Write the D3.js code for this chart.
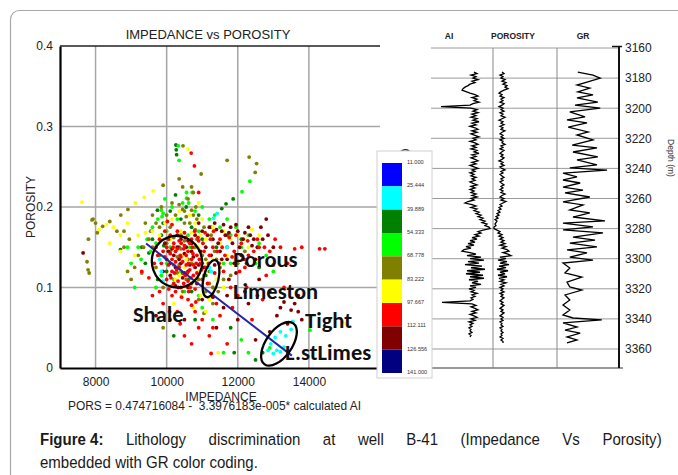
<!DOCTYPE html>
<html>
<head>
<meta charset="utf-8">
<script src="https://cdnjs.cloudflare.com/ajax/libs/d3/7.8.5/d3.min.js"></script>
<style>
  body { margin: 0; background: #fff; }
  svg { display: block; font-family: Arial, "Liberation Sans", sans-serif; }
</style>
</head>
<body>
<script>
// ---- scatter data : [impedance, porosity], one array per GR colour class ----
var ptsCyan = [[11420,0.192],[11320,0.186],[11700,0.150],[11200,0.125],[11250,0.120],[9800,0.135],[9850,0.120],[9900,0.108],
  [12930,0.030],[13050,0.038],[13200,0.045],[13350,0.040],[13500,0.048],[13100,0.022],[13200,0.020],[13000,0.018],[12850,0.022],[13300,0.026],[13550,0.058]];
var ptsDkGreen = [[10260,0.277],[10270,0.271],[10280,0.265],[11870,0.210],[11670,0.204],[11550,0.198],[9740,0.196],[9850,0.165],
  [9920,0.152],[9500,0.143],[8700,0.147],[9400,0.130],[10100,0.195],[10400,0.185],[10700,0.175],[11000,0.160],[11400,0.150],
  [10000,0.120],[10700,0.095],[11100,0.115],[12600,0.125],[11900,0.019],[12700,0.019],[12500,0.010],[11800,0.050],[10800,0.060],[10200,0.040],
  [9600,0.160],[9900,0.180],[10250,0.215],[10550,0.200],[10900,0.190],[11250,0.175],[11700,0.165],[12100,0.160],[9300,0.150],
  [10350,0.150],[10600,0.110],[11000,0.130],[9750,0.110]];
var ptsLime = [[10350,0.258],[10330,0.276],[10560,0.218],[10560,0.211],[10720,0.218],[10620,0.205],[12340,0.232],[12120,0.219],
  [9900,0.192],[9850,0.196],[9870,0.188],[9280,0.135],[9200,0.150],[9000,0.130],[9550,0.145],[9700,0.155],[10000,0.170],[10300,0.185],
  [10600,0.165],[10900,0.170],[11200,0.185],[11500,0.175],[11800,0.165],[12100,0.150],[12500,0.130],[12800,0.140],[10200,0.110],
  [10500,0.095],[11000,0.075],[11300,0.060],[12100,0.035],[11600,0.019],[12300,0.019],[12900,0.025],[14030,0.047],[11600,0.130],
  [10000,0.130],[9700,0.100],[9450,0.160],[9600,0.175],[9750,0.185],[9950,0.210],[10150,0.200],[10450,0.205],[10800,0.195],
  [11000,0.200],[11350,0.190],[11700,0.185],[11950,0.175],[12300,0.165],[12600,0.155],[10100,0.150],[10650,0.150],[10400,0.120],
  [11300,0.100],[9850,0.115],[10900,0.090],[11800,0.130],[13000,0.120],[9100,0.100],[8900,0.150]];
var ptsOlive = [[7930,0.185],[8710,0.190],[8910,0.197],[9900,0.227],[10460,0.276],[10350,0.235],[10450,0.225],[10350,0.203],
  [10700,0.225],[10750,0.218],[10970,0.241],[10820,0.200],[10600,0.210],[10450,0.197],[10500,0.195],[10700,0.196],[10750,0.190],
  [11700,0.258],[12320,0.262],[12530,0.254],[12490,0.243],[7900,0.184],[8000,0.180],[8200,0.176],[8400,0.182],[8600,0.170],
  [8050,0.168],[7800,0.160],[8800,0.150],[8900,0.120],[9100,0.125],[9300,0.118],[9000,0.110],[7760,0.132],[7790,0.122],[7820,0.118],
  [9600,0.190],[9800,0.175],[9500,0.160],[10000,0.155],[10200,0.162],[10400,0.148],[10600,0.135],[10800,0.150],[11000,0.140],
  [10300,0.118],[10700,0.105],[11200,0.120],[11400,0.135],[11100,0.095],[10900,0.085],[11300,0.100],[11600,0.110],[12000,0.130],
  [12200,0.145],[9800,0.140],[10100,0.175],[10500,0.180],[11200,0.105],[11350,0.145],[9900,0.050],[10100,0.145],[10300,0.138],
  [10500,0.158],[10700,0.130],[10900,0.110],[11100,0.135],[10400,0.165],[10800,0.172],[10200,0.128],[11500,0.125],[11800,0.115],
  [9700,0.125],[9600,0.150],[9400,0.180],[9550,0.170],[9700,0.180],[9850,0.200],[10000,0.190],[10150,0.205],[10250,0.190],
  [10550,0.188],[10650,0.180],[10850,0.185],[11050,0.175],[11250,0.165],[9200,0.140],[9350,0.150],[8950,0.160],[8800,0.170],
  [10350,0.128],[10550,0.110],[10850,0.160],[11050,0.115],[10150,0.102],[10450,0.095],[11450,0.095],[11300,0.080],[11050,0.068],[9900,0.100]];
var ptsYellow = [[7620,0.206],[9120,0.205],[9370,0.212],[9620,0.220],[10600,0.272],[10900,0.205],[8300,0.178],[8100,0.172],
  [8500,0.175],[8700,0.165],[8400,0.155],[9200,0.165],[9400,0.168],[8700,0.145],[9100,0.140],[10100,0.160],[10400,0.170],
  [10700,0.168],[10900,0.150],[11100,0.160],[11300,0.135],[10500,0.125],[10800,0.110],[11000,0.100],[10900,0.120],[11500,0.155],
  [11800,0.160],[12200,0.160],[12400,0.172],[12600,0.165],[11200,0.085],[11100,0.070],[10400,0.090],[11450,0.019],[14950,0.057],
  [15050,0.055],[10200,0.080],[10250,0.150],[10550,0.135],[10750,0.155],[10350,0.115],[10950,0.165],[11400,0.110],[11700,0.140],
  [10650,0.145],[9800,0.165],[9950,0.180],[10150,0.185],[10350,0.195],[10650,0.190],[10800,0.180],[11000,0.185],[11300,0.175],
  [11600,0.170],[12000,0.165],[12300,0.150],[9600,0.170],[8900,0.180],[10450,0.140],[10250,0.110],[10650,0.100],[10950,0.090],
  [11150,0.130],[11600,0.100],[10750,0.075]];
var ptsDkRed = [[10400,0.160],[10600,0.158],[10800,0.165],[11000,0.170],[11200,0.175],[11400,0.172],[11600,0.178],[11800,0.175],
  [12000,0.170],[12200,0.168],[11100,0.150],[11300,0.160],[11500,0.145],[11700,0.135],[11900,0.130],[12100,0.140],[12400,0.152],
  [12500,0.135],[12700,0.160],[10200,0.140],[10400,0.130],[10600,0.120],[10300,0.150],[10500,0.142],[10700,0.145],[10000,0.135],
  [9900,0.120],[10100,0.115],[10800,0.125],[11000,0.085],[11600,0.075],[12000,0.060],[12300,0.080],[12600,0.110],[12900,0.095],
  [13300,0.082],[13500,0.072],[13700,0.070],[13800,0.060],[13400,0.055],[13100,0.065],[12900,0.045],[12500,0.035],[11400,0.050],
  [10500,0.060],[9700,0.065],[7650,0.143],[13700,0.090],[12800,0.185],[10150,0.148],[10350,0.135],[10550,0.150],[10750,0.138],
  [10950,0.145],[10250,0.125],[10450,0.112],[10650,0.128],[10850,0.105],[11050,0.125],[11250,0.140],[11450,0.155],[11650,0.165],
  [11850,0.155],[12050,0.150],[12350,0.165],[12650,0.175],[10050,0.145],[10600,0.100],[11300,0.088],[10900,0.180],[11150,0.165],
  [11350,0.180],[11550,0.170],[11750,0.168],[11950,0.178],[12150,0.160],[12300,0.175],[12450,0.160],[12550,0.150],[12850,0.165],
  [13000,0.150],[12250,0.130],[11950,0.118],[11750,0.110],[11550,0.135],[11350,0.128],[10300,0.165],[10500,0.118],[10700,0.155],
  [10900,0.128],[10100,0.130],[9950,0.155],[10250,0.102],[13200,0.075],[13600,0.080],[12200,0.095],[11700,0.090]];
var ptsRed = [[10780,0.251],[10690,0.267],[10900,0.218],[9900,0.145],[10000,0.150],[10100,0.142],[10200,0.155],[10300,0.148],
  [10400,0.138],[10500,0.152],[10600,0.145],[10700,0.135],[10050,0.128],[10150,0.120],[10250,0.132],[10350,0.125],[10450,0.118],
  [10550,0.128],[10650,0.122],[10750,0.115],[10850,0.140],[10950,0.130],[10100,0.165],[10300,0.170],[10500,0.168],[10700,0.160],
  [10900,0.158],[10000,0.110],[10200,0.105],[10400,0.100],[10600,0.108],[10800,0.098],[11000,0.110],[11100,0.125],[11200,0.140],
  [11300,0.150],[11500,0.160],[11700,0.150],[11900,0.145],[12100,0.155],[12300,0.140],[12600,0.150],[12900,0.145],[13200,0.150],
  [13600,0.148],[14300,0.148],[14450,0.148],[13000,0.128],[12200,0.125],[11600,0.120],[11800,0.100],[12000,0.090],[11400,0.080],
  [10600,0.085],[10300,0.070],[10100,0.060],[9800,0.095],[9900,0.080],[10900,0.050],[11200,0.040],[11700,0.030],[10700,0.030],
  [12400,0.060],[12700,0.085],[13300,0.100],[11250,0.018],[9500,0.112],[9300,0.120],[9650,0.130],[12800,0.115],[9950,0.138],
  [10050,0.160],[10150,0.135],[10250,0.145],[10350,0.158],[10450,0.132],[10550,0.140],[10650,0.155],[10750,0.128],[10850,0.118],
  [10120,0.112],[10320,0.108],[10520,0.115],[10720,0.150],[10920,0.135],[11050,0.145],[10180,0.150],[10380,0.140],[10580,0.118],
  [10280,0.122],[10480,0.148],[10680,0.112],[10880,0.162],[11150,0.105],[11350,0.118],[10420,0.088],[10250,0.095],[10060,0.098],
  [10620,0.095],[10820,0.082],[9700,0.150],[9750,0.140],[9800,0.160],[9850,0.130],[9950,0.170],[10020,0.182],[10150,0.178],
  [10220,0.118],[10330,0.100],[10410,0.155],[10480,0.105],[10530,0.162],[10610,0.130],[10660,0.100],[10740,0.142],[10790,0.170],
  [10830,0.130],[10980,0.122],[11020,0.155],[11080,0.168],[11180,0.130],[11230,0.160],[11320,0.170],[11420,0.145],[11480,0.130],
  [11560,0.150],[11640,0.140],[11760,0.162],[11840,0.138],[11950,0.165],[12050,0.120],[12180,0.135],[12280,0.158],[12450,0.145],
  [12550,0.160],[12750,0.150],[13050,0.160],[13400,0.130],[13800,0.150],[10080,0.070],[10380,0.055],[10500,0.040],[10800,0.070],
  [11000,0.060],[11500,0.065],[11850,0.075],[12250,0.100],[12550,0.090],[9600,0.090],[10150,0.090],[10700,0.078],[11300,0.050]];

// GR colour classes (colour bar)
var grBreaks = [11.000, 25.444, 39.889, 54.333, 68.778, 83.222, 97.667, 112.111, 126.556, 141.000];
var grColors = ["#0000ff", "#00ffff", "#008000", "#00ff00", "#808000", "#ffff00", "#ff0000", "#800000", "#000080"];

// regression: PORS = 0.474716084 - 3.3976183e-005 * AI
var regA = 0.474716084, regB = 3.3976183e-5;
var regRange = [9420, 13520];

// ---- well logs ----
var logTop = 3176; // AI and porosity sampled every 1 m from here
var aiLog = [10600,11200,10000,11000,10400,11400,10200,10800,9800,9400,8800,8400,8200,9000,9800,10800,11400,10200,11200,10600,
  11600,10400,9800,4000,10000,11200,10400,11400,10200,11000,10000,11200,10400,11600,10200,11000,9800,10800,11400,10200,
  11200,10000,10800,11600,10400,11000,9800,10800,11400,10200,11000,10000,11200,10600,11600,10200,11000,10000,10800,11400,
  10200,11000,9800,10600,11400,10200,10800,9800,10600,10000,11000,10200,10800,9800,10400,11200,10000,10800,9800,10600,
  10000,11000,10200,11200,10000,10600,9400,8800,10200,11000,10000,11200,10600,11600,11000,12000,11400,12400,11800,12800,
  12200,13200,12800,13600,13800,12400,11400,12000,10800,11600,10200,11200,9800,10800,9400,10600,9000,10000,8600,8200,
  9800,11000,9200,12000,9800,12600,9400,11600,8800,12200,10000,12800,9200,11800,9000,12400,9800,12600,9600,11400,
  10200,12000,9800,11000,9600,10600,10000,11200,10200,10800,10000,10400,9800,4200,10200,11000,10000,10800,11400,10200,
  11000,9800,10600,11200,10000,10800,9600,10400,9800,10200,9600,10000,9800,10200,9600,10000,9800];
var porLog = [.09,.11,.07,.10,.08,.12,.09,.13,.10,.14, .12,.15,.11,.08,.06,.09,.07,.11,.08,.10,
  .07,.11,.09,.06,.10,.08,.11,.07,.10,.08, .12,.09,.06,.10,.08,.11,.07,.10,.08,.12,
  .09,.07,.10,.08,.11,.07,.10,.09,.12,.08, .10,.07,.11,.09,.07,.10,.08,.11,.09,.06,
  .10,.08,.11,.07,.09,.12,.08,.10,.07,.09, .11,.08,.10,.07,.09,.11,.08,.10,.07,.10,
  .08,.12,.09,.07,.11,.08,.13,.10,.07,.09, .06,.08,.05,.07,.04,.06,.03,.05,.02,.04,
  .03,.02,.03,.01,.01,.04,.07,.05,.09,.06, .10,.07,.11,.08,.12,.07,.13,.09,.14,.16,
  .10,.15,.18,.07,.13,.05,.14,.07,.16,.06, .13,.04,.15,.07,.12,.05,.14,.06,.11,.07,
  .13,.08,.11,.07,.10,.08,.11,.07,.10,.08, .11,.09,.07,.10,.08,.11,.09,.07,.10,.08,
  .11,.09,.07,.10,.08,.10,.07,.09,.08,.10, .07,.09,.08,.10,.08,.09,.07,.10,.08,.10, .10];
// GR read as [depth, API]
var grLog = [[3176,52],[3178,90],[3180,108],[3182.6,75],[3184.6,50],[3186.6,82],[3189.2,52],[3191.2,90],[3193.2,50],[3195.9,102],
  [3197.9,45],[3199.9,108],[3202.5,32],[3205.8,70],[3207.8,25],[3209.8,75],[3212.5,28],[3215.8,78],[3217.8,50],[3221.1,90],
  [3224.5,38],[3226.4,100],[3229.1,40],[3232.4,102],[3234.4,50],[3237.7,100],[3239.7,32],[3241.1,125],[3243.1,15],[3245.7,50],
  [3247.7,15],[3249.7,58],[3252.4,15],[3254.4,65],[3256.3,20],[3259,82],[3262.3,15],[3264.3,65],[3267.6,32],[3269.6,82],
  [3272.3,40],[3274.9,120],[3276.3,15],[3278.9,90],[3280.9,15],[3282.9,115],[3285.6,40],[3287.6,95],[3289.6,32],[3292.2,100],
  [3294.2,25],[3296.2,75],[3298.9,32],[3300.9,90],[3302.9,15],[3306.2,32],[3309.5,20],[3312.2,62],[3315.5,25],[3318.8,32],
  [3320.8,62],[3324.1,20],[3327.4,32],[3330.8,15],[3334.1,32],[3337.4,15],[3339.4,40],[3340.7,112],[3342.7,15],[3345.4,50],
  [3347.4,20],[3349.4,58],[3352,25],[3354,50],[3356,25]];
var depthTicks = [3160,3180,3200,3220,3240,3260,3280,3300,3320,3340,3360];
var trackNames = ["AI", "POROSITY", "GR"];

var svg = d3.select("body").append("svg")
  .attr("width", 678)
  .attr("height", 475);

// outer figure frame
svg.append("rect")
  .attr("x", 10.5).attr("y", 10.5)
  .attr("width", 700).attr("height", 520)
  .attr("rx", 9)
  .style("fill", "none").style("stroke", "#a8a8a8").style("stroke-width", 1.2);

// ===================== scatter =====================
var x = d3.scaleLinear().domain([7000, 16000]).range([60, 380]);
var y = d3.scaleLinear().domain([0, 0.4]).range([368, 46]);

var grid = svg.append("g");
grid.selectAll("line.v").data([8000, 10000, 12000, 14000]).enter().append("line")
  .attr("x1", function (d) { return x(d) }).attr("x2", function (d) { return x(d) })
  .attr("y1", y(0.4)).attr("y2", y(0))
  .style("stroke", "#a6a6a6").style("stroke-width", 1.5);
grid.selectAll("line.h").data([0.1, 0.2, 0.3]).enter().append("line")
  .attr("x1", x(7000)).attr("x2", x(16000))
  .attr("y1", function (d) { return y(d) }).attr("y2", function (d) { return y(d) })
  .style("stroke", "#a6a6a6").style("stroke-width", 1.5);
svg.append("line")
  .attr("x1", x(7000)).attr("x2", x(16000)).attr("y1", y(0.4)).attr("y2", y(0.4))
  .style("stroke", "#222").style("stroke-width", 1.5);

var yAxis = svg.append("g")
  .attr("transform", "translate(" + x(7000) + ",0)")
  .call(d3.axisLeft(y).tickValues([0, 0.1, 0.2, 0.3, 0.4])
    .tickFormat(function (d) { return d == 0 ? "0" : d3.format(".1f")(d) })
    .tickSize(0).tickPadding(7));
var xAxis = svg.append("g")
  .attr("transform", "translate(0," + y(0) + ")")
  .call(d3.axisBottom(x).tickValues([8000, 10000, 12000, 14000]).tickFormat(d3.format("d"))
    .tickSize(0).tickPadding(9));
[yAxis, xAxis].forEach(function (a) {
  a.select(".domain").style("stroke", "#000").style("stroke-width", 2.2);
  a.selectAll("text").style("font-size", "12px").style("fill", "#222").style("font-family", "Arial, 'Liberation Sans', sans-serif");
});

var color = d3.scaleThreshold().domain(grBreaks.slice(1, -1)).range(grColors);
var sets = [
  { gr: 47, pts: ptsDkGreen },
  { gr: 61, pts: ptsLime },
  { gr: 76, pts: ptsOlive },
  { gr: 90, pts: ptsYellow },
  { gr: 119, pts: ptsDkRed },
  { gr: 105, pts: ptsRed },
  { gr: 32, pts: ptsCyan }
];
sets.forEach(function (s) {
  svg.append("g").selectAll("circle").data(s.pts).enter().append("circle")
    .attr("cx", function (d) { return x(d[0]) })
    .attr("cy", function (d) { return y(d[1]) })
    .attr("r", 1.9)
    .style("fill", color(s.gr));
});

// regression line
svg.append("line")
  .attr("x1", x(regRange[0])).attr("y1", y(regA - regB * regRange[0]))
  .attr("x2", x(regRange[1])).attr("y2", y(regA - regB * regRange[1]))
  .style("stroke", "#2424a8").style("stroke-width", 2);

// lithology annotations
var ellipses = [
  { imp: 10290, por: 0.132, rx: 25, ry: 26, rot: -20 },
  { imp: 11247, por: 0.111, rx: 7.5, ry: 19, rot: 13 },
  { imp: 13159, por: 0.030, rx: 25, ry: 13, rot: -55 }
];
svg.append("g").selectAll("ellipse").data(ellipses).enter().append("ellipse")
  .attr("transform", function (d) { return "translate(" + x(d.imp) + "," + y(d.por) + ") rotate(" + d.rot + ")" })
  .attr("rx", function (d) { return d.rx }).attr("ry", function (d) { return d.ry })
  .style("fill", "none").style("stroke", "#000").style("stroke-width", 2.3);

var notes = [
  { t: "Shale", imp: 9053, por: 0.057 },
  { t: "Porous", imp: 11866, por: 0.1255 },
  { t: "Limeston", imp: 11866, por: 0.0857 },
  { t: "Tight", imp: 13891, por: 0.0497 },
  { t: "L.stLimes", imp: 13328, por: 0.0099 }
];
svg.append("g").selectAll("text").data(notes).enter().append("text")
  .attr("x", function (d) { return x(d.imp) })
  .attr("y", function (d) { return y(d.por) })
  .text(function (d) { return d.t })
  .style("font-family", "Carlito, Calibri, Lato, sans-serif")
  .style("font-weight", "bold").style("font-size", "22.5px").style("fill", "#111");

svg.append("text").attr("x", 208).attr("y", 39).attr("text-anchor", "middle")
  .style("font-size", "13px").style("fill", "#222").text("IMPEDANCE vs POROSITY");
svg.append("text").attr("transform", "translate(35,207) rotate(-90)").attr("text-anchor", "middle")
  .style("font-size", "12px").style("fill", "#222").text("POROSITY");
svg.append("text").attr("x", 221).attr("y", 401).attr("text-anchor", "middle")
  .style("font-size", "12px").style("fill", "#222").text("IMPEDANCE");
svg.append("text").attr("x", 68).attr("y", 410)
  .attr("textLength", 293).attr("lengthAdjust", "spacingAndGlyphs")
  .style("font-size", "12px").style("fill", "#222").style("white-space", "pre")
  .text("PORS = 0.474716084 -  3.3976183e-005* calculated AI");

// ===================== well logs =====================
var depth = d3.scaleLinear().domain([3160, 3360]).range([48, 349]);
var aiX = d3.scaleLinear().domain([2000, 14400]).range([431, 493]);
var porX = d3.scaleLinear().domain([0, 0.64]).range([493, 557]);
var grX = d3.scaleLinear().domain([0, 155]).range([557, 619]);
var logBottom = 368;

var logs = svg.append("g");
logs.selectAll("line.dg").data(depthTicks).enter().append("line")
  .attr("x1", 431).attr("x2", 619)
  .attr("y1", function (d) { return depth(d) }).attr("y2", function (d) { return depth(d) })
  .style("stroke", "#9a9a9a").style("stroke-width", 1);
logs.selectAll("line.tr").data([493, 557]).enter().append("line")
  .attr("x1", function (d) { return d }).attr("x2", function (d) { return d })
  .attr("y1", depth(3160)).attr("y2", logBottom)
  .style("stroke", "#8a8a8a").style("stroke-width", 1);
logs.append("line").attr("x1", 431).attr("x2", 623).attr("y1", logBottom).attr("y2", logBottom)
  .style("stroke", "#777").style("stroke-width", 1.5);

var dAxis = logs.append("g").attr("transform", "translate(619,0)")
  .call(d3.axisRight(depth).tickValues(depthTicks).tickFormat(d3.format("d")).tickSize(0).tickPadding(6));
dAxis.select(".domain").remove();
dAxis.selectAll("text").style("font-size", "12px").style("fill", "#222").style("font-family", "Arial, 'Liberation Sans', sans-serif");
logs.append("line").attr("x1", 619).attr("x2", 619).attr("y1", 46).attr("y2", logBottom)
  .style("stroke", "#111").style("stroke-width", 2);
logs.append("line").attr("x1", 612).attr("x2", 622).attr("y1", 46.5).attr("y2", 46.5)
  .style("stroke", "#111").style("stroke-width", 1.5);

logs.selectAll("text.hd").data(trackNames).enter().append("text")
  .attr("x", function (d, i) { return [449, 513, 583][i] })
  .attr("y", 39).attr("text-anchor", "middle")
  .style("font-size", "8.5px").style("font-weight", "bold").style("fill", "#222")
  .text(function (d) { return d });
logs.append("text").attr("transform", "translate(668,158) rotate(90)").attr("text-anchor", "middle")
  .style("font-size", "8.5px").style("fill", "#333").text("Depth (m)");

var curve = function (xs) {
  return d3.line()
    .x(function (d, i) { return xs(d) })
    .y(function (d, i) { return depth(logTop + i) });
};
logs.append("path").datum(aiLog).attr("d", curve(aiX))
  .style("fill", "none").style("stroke", "#000").style("stroke-width", 1.3);
logs.append("path").datum(porLog).attr("d", curve(porX))
  .style("fill", "none").style("stroke", "#000").style("stroke-width", 1.3);
logs.append("path").datum(grLog)
  .attr("d", d3.line().x(function (d) { return grX(d[1]) }).y(function (d) { return depth(d[0]) }))
  .style("fill", "none").style("stroke", "#000").style("stroke-width", 1.3);

// ===================== colour bar =====================
var cb = svg.append("g");
cb.append("text").attr("x", 405).attr("y", 161).attr("text-anchor", "middle")
  .style("font-size", "17px").style("fill", "#222").text("C");
cb.append("rect").attr("x", 377).attr("y", 151).attr("width", 55).attr("height", 227)
  .style("fill", "#fff").style("stroke", "#d0d0d0").style("stroke-width", 1);
var cbY = d3.scaleLinear().domain([grBreaks[0], grBreaks[grBreaks.length - 1]]).range([163, 373]);
cb.selectAll("rect.sw").data(grColors).enter().append("rect")
  .attr("x", 382).attr("width", 20)
  .attr("y", function (d, i) { return cbY(grBreaks[i]) })
  .attr("height", function (d, i) { return cbY(grBreaks[i + 1]) - cbY(grBreaks[i]) })
  .style("fill", function (d) { return d });
cb.selectAll("text.lb").data(grBreaks).enter().append("text")
  .attr("x", 407).attr("y", function (d) { return cbY(d) - 1 })
  .attr("dy", "0.35em")
  .style("font-size", "5.6px").style("fill", "#333")
  .text(function (d) { return d3.format(".3f")(d) });

// ===================== caption =====================
// narrow face faked by squeezing Liberation Sans horizontally; line 1 justified
// with word spacing on the words after "Figure 4:"
var cap = svg.append("g")
  .style("font-family", "'Liberation Sans', Arial, sans-serif")
  .style("font-size", "17px").style("fill", "#1a1a1a");
var l2 = cap.append("text").text("embedded with GR color coding.");
var sx = 218 / l2.node().getComputedTextLength();
l2.attr("transform", "translate(40,468) scale(" + sx + ",1)");
var l1 = cap.append("text");
l1.append("tspan").style("font-weight", "bold").text("Figure 4:");
var rest = l1.append("tspan").text(" Lithology discrimination at well B-41 (Impedance Vs Porosity)");
var w1 = l1.node().getComputedTextLength();
l1.attr("transform", "translate(40,445) scale(" + sx + ",1)");
rest.style("word-spacing", ((622 / sx - w1) / 8) + "px");
</script>
</body>
</html>
